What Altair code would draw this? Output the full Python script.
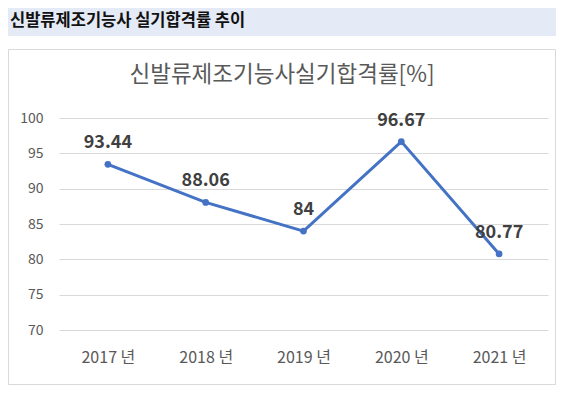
import altair as alt
import pandas as pd

years = ["2017 년", "2018 년", "2019 년", "2020 년", "2021 년"]
rates = [93.44, 88.06, 84, 96.67, 80.77]
rate_labels = ["93.44", "88.06", "84", "96.67", "80.77"]
y_ticks = [70, 75, 80, 85, 90, 95, 100]

header_text = "신발류제조기능사 실기합격률 추이"
chart_title = "신발류제조기능사실기합격률[%]"

df = pd.DataFrame({"year": years, "rate": rates, "label": rate_labels})
dummy = pd.DataFrame({"a": [0]})

FONT = "Noto Sans CJK KR"
BLUE = "#4472C4"

x_enc = alt.X("year:N", sort=years, title=None,
              scale=alt.Scale(type="point", padding=0.5),
              axis=alt.Axis(labelAngle=0, labelFontSize=16, labelColor="#595959",
                            labelFont=FONT, ticks=False, domain=False, grid=False,
                            labelPadding=19))
y_enc = alt.Y("rate:Q", title=None,
              scale=alt.Scale(domain=[70, 100], nice=False, zero=False),
              axis=alt.Axis(values=y_ticks, labelFontSize=14, labelColor="#595959",
                            labelFont=FONT, ticks=False, domain=False,
                            gridColor="#D9D9D9", gridWidth=1, labelPadding=16))

header = alt.Chart(dummy).mark_rect(color="#E4EAF6", clip=False).encode(
    x=alt.value(-51), x2=alt.value(497), y=alt.value(-110), y2=alt.value(-82))
header_txt = alt.Chart(dummy).mark_text(
    text=header_text, align="left", baseline="alphabetic", fontSize=16.5,
    fontWeight="bold", color="#111111", font=FONT).encode(
    x=alt.value(-49), y=alt.value(-92))
border = alt.Chart(dummy).mark_rect(fillOpacity=0, stroke="#D9D9D9", strokeWidth=1).encode(
    x=alt.value(-50.5), x2=alt.value(496.5), y=alt.value(-68.5), y2=alt.value(266.5))
title_txt = alt.Chart(dummy).mark_text(
    text=chart_title, align="center", baseline="middle", fontSize=22.5,
    color="#595959", font=FONT).encode(x=alt.value(223), y=alt.value(-43))

base = alt.Chart(df).encode(x=x_enc, y=y_enc)
line = base.mark_line(color=BLUE, strokeWidth=3)
pts = base.mark_point(filled=True, color=BLUE, size=45, opacity=1)
lbls = base.mark_text(dy=-21, fontSize=18, fontWeight="bold", color="#404040",
                      font=FONT, baseline="middle").encode(text="label:N")

chart = alt.layer(header, header_txt, border, title_txt, line, pts, lbls).properties(
    width=489, height=212,
    padding={"left": 51, "top": 110, "right": 8, "bottom": 57},
    autosize=alt.AutoSizeParams(type="none"),
    background="white",
).configure_view(stroke=None)

chart.save("out.html", embed_options={"renderer": "svg", "actions": False})
